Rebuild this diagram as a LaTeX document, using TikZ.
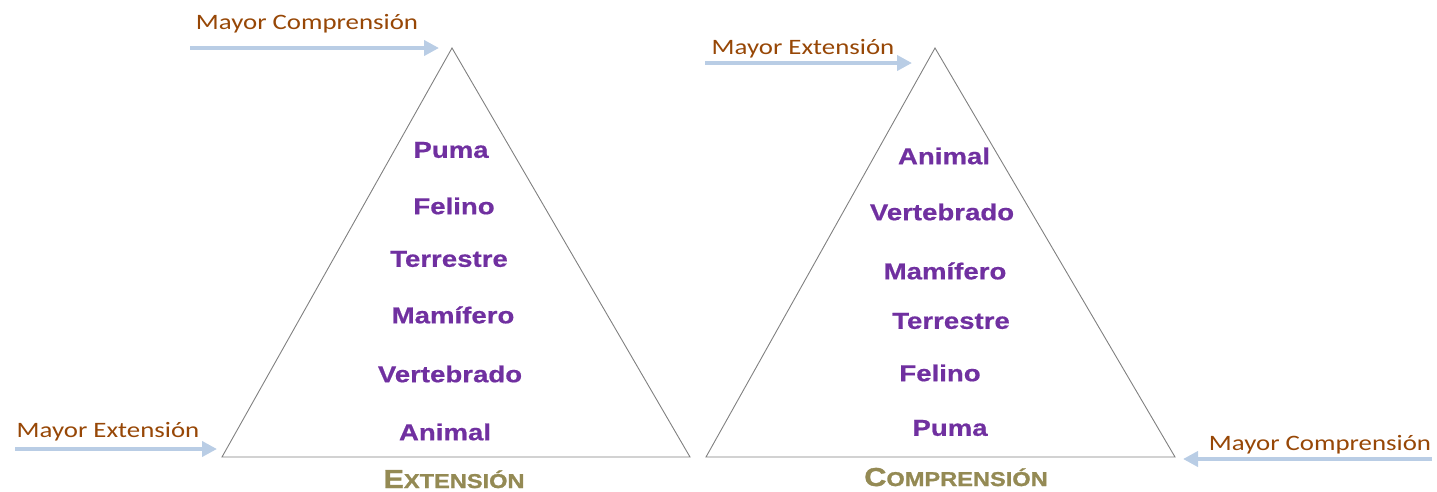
\documentclass[tikz,border=0pt]{standalone}
\usepackage{fontspec}
\setmainfont[FakeStretch=1.2]{Liberation Sans}
\newfontfamily\heavy[FakeStretch=1.18,FakeBold=1.2]{Liberation Sans Bold}
\newfontfamily\termfont[FakeStretch=1.2,FakeBold=0.6]{Liberation Sans Bold}
\newfontfamily\calib[FakeStretch=1.22]{Carlito}
\usetikzlibrary{arrows.meta}
\definecolor{lblorange}{RGB}{151,71,6}
\definecolor{arrblue}{RGB}{185,205,229}
\definecolor{termpurple}{RGB}{112,48,160}
\definecolor{olive}{RGB}{148,138,84}
\definecolor{trigray}{RGB}{128,128,128}
\tikzset{
  tri/.style={draw=trigray, line width=0.9pt, line join=miter},
  bigarrow/.style={draw=arrblue, line width=4pt, -{Triangle[length=15pt,width=15pt]}},
  lbl/.style={text=lblorange, font=\calib\fontsize{22}{26}\selectfont, inner sep=0pt, anchor=base},
  term/.style={text=termpurple, font=\termfont\fontsize{23}{27}\selectfont, inner sep=0pt},
  title/.style={text=olive, font=\heavy, inner sep=0pt, anchor=base},
}
\newcommand{\bigc}[1]{{\fontsize{26}{30}\selectfont #1}}
\newcommand{\smc}[1]{{\fontsize{20}{24}\selectfont #1}}
\begin{document}
\begin{tikzpicture}[x=1pt,y=-1pt]
\useasboundingbox (0,0) rectangle (1437,491);
% left triangle
\coordinate (LA) at (452,48);
\coordinate (LB) at (222,457);
\coordinate (LC) at (690,457);
\draw[tri] (LA) -- (LB) -- (LC) -- cycle;
% right triangle
\coordinate (RA) at (935,48);
\coordinate (RB) at (706,457);
\coordinate (RC) at (1175,457);
\draw[tri] (RA) -- (RB) -- (RC) -- cycle;
% arrows
\coordinate (a1s) at (190,48);  \coordinate (a1e) at (439,48);
\coordinate (a2s) at (15,449);  \coordinate (a2e) at (217,449);
\coordinate (a3s) at (705,63);  \coordinate (a3e) at (912,63);
\coordinate (a4s) at (1432,459); \coordinate (a4e) at (1183,459);
\draw[bigarrow] (a1s) -- (a1e);
\draw[bigarrow] (a2s) -- (a2e);
\draw[bigarrow] (a3s) -- (a3e);
\draw[bigarrow] (a4s) -- (a4e);
% arrow labels
\node[lbl] (l1) at (307,29) {Mayor Comprensión};
\node[lbl] (l2) at (108,437) {Mayor Extensión};
\node[lbl] (l3) at (803,54) {Mayor Extensión};
\node[lbl] (l4) at (1320,450) {Mayor Comprensión};
% left terms
\node[term] (lp) at (451,150) {Puma};
\node[term] (lf) at (454,206) {Felino};
\node[term] (lt) at (449,259) {Terrestre};
\node[term] (lm) at (453,315) {Mamífero};
\node[term] (lv) at (450,374) {Vertebrado};
\node[term] (la) at (445,432) {Animal};
% right terms
\node[term] (ra) at (944,156) {Animal};
\node[term] (rv) at (942,212) {Vertebrado};
\node[term] (rm) at (945,271) {Mamífero};
\node[term] (rt) at (951,321) {Terrestre};
\node[term] (rf) at (940,373) {Felino};
\node[term] (rp) at (950,428) {Puma};
% titles
\node[title] (te) at (454,488) {\bigc{E}\smc{XTENSIÓN}};
\node[title] (tc) at (956,486) {\bigc{C}\smc{OMPRENSIÓN}};
\end{tikzpicture}
\end{document}
